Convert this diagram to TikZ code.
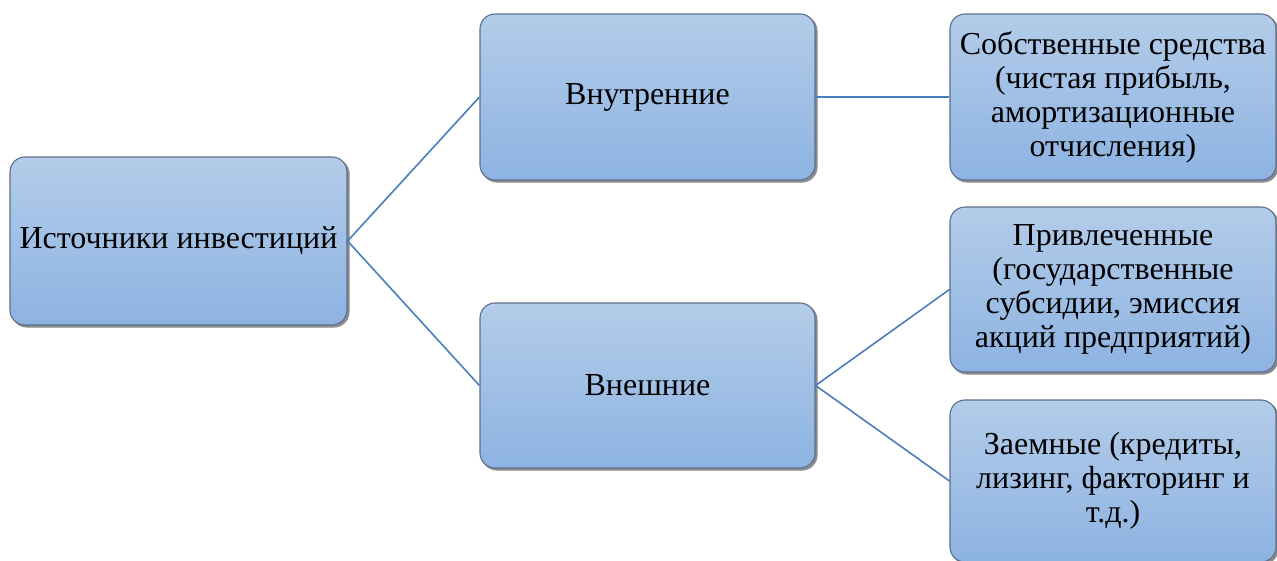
\documentclass[tikz,border=0pt]{standalone}
\usepackage{fontspec}
\newfontfamily\tnr{LiberationSerif-Regular.ttf}
\definecolor{boxtop}{HTML}{B3CCE9}
\definecolor{boxbot}{HTML}{8DB3E2}
\definecolor{boxline}{HTML}{5B6F8C}
\definecolor{shad}{HTML}{8C8C8C}
\definecolor{conn}{HTML}{4A7EBB}
\tikzset{
  blk/.style={draw=boxline, line width=1.1pt, rounded corners=15pt,
    top color=boxtop, bottom color=boxbot, inner sep=0pt, align=center,
    font=\tnr\fontsize{32}{34}\selectfont,
    preaction={fill=shad, draw=shad, transform canvas={shift={(2pt,-2pt)}}}},
  conline/.style={draw=conn, line width=1.6pt}
}
\begin{document}
\begin{tikzpicture}[x=1pt,y=-1pt]
\useasboundingbox (0,0) rectangle (1277,560);
\node[blk, minimum width=337pt, minimum height=168pt] (root) at (178.5,241) {Источники инвестиций};
\node[blk, minimum width=335pt, minimum height=166pt] (in) at (647.5,97) {Внутренние};
\node[blk, minimum width=335pt, minimum height=165pt] (out) at (647.5,385.5) {Внешние};
\node[blk, minimum width=326pt, minimum height=166pt] (r1) at (1113,97) {Собственные средства\\(чистая прибыль,\\амортизационные\\отчисления)};
\node[blk, minimum width=326pt, minimum height=165pt] (r2) at (1113,289.5) {Привлеченные\\(государственные\\субсидии, эмиссия\\акций предприятий)};
\node[blk, minimum width=326pt, minimum height=162pt] (r3) at (1113,481) {Заемные (кредиты,\\лизинг, факторинг и\\т.д.)};
\draw[conline] (root.east) -- (in.west);
\draw[conline] (root.east) -- (out.west);
\draw[conline] (in.east) -- (r1.west);
\draw[conline] (out.east) -- (r2.west);
\draw[conline] (out.east) -- (r3.west);
\end{tikzpicture}
\end{document}
